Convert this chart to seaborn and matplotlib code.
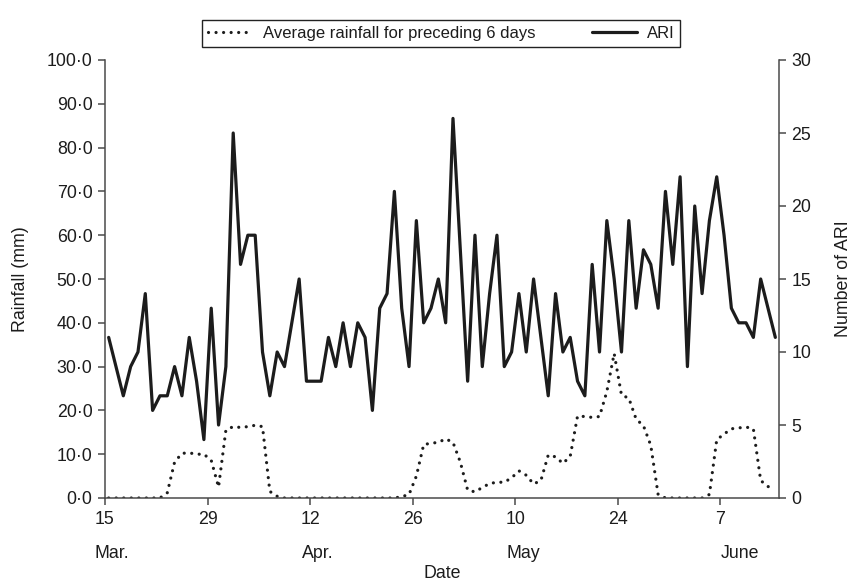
import matplotlib
matplotlib.use("Agg")
import matplotlib.pyplot as plt
import seaborn as sns
import pandas as pd
import numpy as np

# ---- data (one value per day, 15 March .. 14 June) ----
day = list(range(92))
rainfall_avg6 = [0, 0, 0, 0, 0, 0, 0, 0,
                 1.2, 8.2, 10.2, 10.3, 10.0, 10.0, 8.6, 2.5,
                 15.5, 16.3, 16.1, 16.3, 16.6, 16.3, 1.5, 0.4,
                 0, 0, 0, 0, 0, 0, 0, 0, 0, 0, 0, 0, 0, 0, 0, 0,
                 0.3, 0.8, 5.0, 12.2, 12.5, 12.7, 13.5, 12.7, 8.2, 1.8,
                 1.4, 2.4, 3.3, 3.6, 3.6, 4.6, 6.2, 5.2, 3.2, 4.0,
                 9.8, 9.4, 7.9, 9.5, 18.7, 18.6, 18.4, 18.6, 24.3, 33.0,
                 23.5, 22.8, 18.0, 16.5, 12.0, 0.8,
                 0, 0, 0, 0, 0, 0,
                 0.8, 13.3, 14.6, 15.8, 16.0, 16.2, 15.8, 4.0, 2.6, 2.6]
ari = [11, 9, 7, 9, 10, 14, 6, 7, 7, 9, 7, 11, 8, 4, 13, 5, 9, 25, 16, 18,
       18, 10, 7, 10, 9, 12, 15, 8, 8, 8, 11, 9, 12, 9, 12, 11, 6, 13, 14, 21,
       13, 9, 19, 12, 13, 15, 12, 26, 17, 8, 18, 9, 14, 18, 9, 10, 14, 10, 15, 11,
       7, 14, 10, 11, 8, 7, 16, 10, 19, 15, 10, 19, 13, 17, 16, 13, 21, 16, 22, 9,
       20, 14, 19, 22, 18, 13, 12, 12, 11, 15, 13, 11]

tick_days = [-0.5, 13.5, 27.5, 41.5, 55.5, 69.5, 83.5]
tick_labels = ["15", "29", "12", "26", "10", "24", "7"]
month_pos = [0.4, 28.6, 56.6, 86.2]
month_labels = ["Mar.", "Apr.", "May", "June"]
rain_ticks = [0, 10, 20, 30, 40, 50, 60, 70, 80, 90, 100]
rain_labels = ["0\u00b70", "10\u00b70", "20\u00b70", "30\u00b70", "40\u00b70", "50\u00b70",
               "60\u00b70", "70\u00b70", "80\u00b70", "90\u00b70", "100\u00b70"]
ari_ticks = [0, 5, 10, 15, 20, 25, 30]

df = pd.DataFrame({"day": day, "rain": rainfall_avg6, "ari": ari})

sns.set_style("ticks")
plt.rcParams["font.family"] = ["Liberation Sans", "DejaVu Sans"]
plt.rcParams["font.size"] = 12

ink = "#1c1c1c"
spine_c = "#4a4a4a"
fs = 12.8

fig = plt.figure(figsize=(8.52, 5.83), dpi=100)
ax = fig.add_axes([105 / 852, 85 / 583, 674 / 852, 438 / 583])
ax2 = ax.twinx()

sns.lineplot(data=df, x="day", y="rain", ax=ax, color=ink, linewidth=2.3,
             label="Average rainfall for preceding 6 days", legend=False)
l1 = ax.lines[-1]
l1.set_linestyle((0, (0.01, 2.35)))
l1.set_dash_capstyle("round")

sns.lineplot(data=df, x="day", y="ari", ax=ax2, color=ink, linewidth=2.3,
             label="ARI", legend=False)
l2 = ax2.lines[-1]

ax.set_xlim(-0.5, 91.5)
ax.set_ylim(0, 100)
ax2.set_ylim(0, 30)

ax.set_xticks(tick_days)
ax.set_xticklabels(tick_labels)
ax.set_yticks(rain_ticks)
ax.set_yticklabels(rain_labels)
ax2.set_yticks(ari_ticks)
ax2.set_yticklabels([str(v) for v in ari_ticks])

for a in (ax, ax2):
    a.spines["top"].set_visible(False)
    for s in a.spines.values():
        s.set_color(spine_c)
        s.set_linewidth(1.1)
    a.tick_params(direction="out", length=5, width=1.1, color=spine_c,
                  labelcolor=ink, labelsize=fs, pad=4)
ax.spines["right"].set_visible(False)
ax2.spines["left"].set_visible(False)
ax2.spines["bottom"].set_visible(False)

xt = ax.get_xaxis_transform()
for d, m in zip(month_pos, month_labels):
    ax.text(d, -0.126, m, transform=xt, ha="center", va="center",
            fontsize=fs, color=ink)

ax.set_xlabel("Date", fontsize=fs, color=ink)
ax.xaxis.label.set_va("center")
ax.xaxis.set_label_coords(0.5, -0.172)
ax.set_ylabel("Rainfall (mm)", fontsize=fs, color=ink)
ax.yaxis.label.set_va("center")
ax.yaxis.set_label_coords(-0.126, 0.5)
ax2.set_ylabel("Number of ARI", fontsize=fs, color=ink)
ax2.yaxis.label.set_va("center")
ax2.yaxis.set_label_coords(1.095, 0.5)

leg = fig.legend(handles=[l1, l2],
                 labels=["Average rainfall for preceding 6 days", "ARI"],
                 loc="center", bbox_to_anchor=(441 / 852, 1 - 33.5 / 583),
                 ncol=2, frameon=True, fancybox=False, framealpha=1,
                 edgecolor="#222222", borderpad=0.35, handlelength=2.7,
                 handletextpad=0.6, columnspacing=3.4, fontsize=12)
leg.get_frame().set_linewidth(1.0)
for t in leg.get_texts():
    t.set_color(ink)

fig.savefig("out.png", dpi=100)
